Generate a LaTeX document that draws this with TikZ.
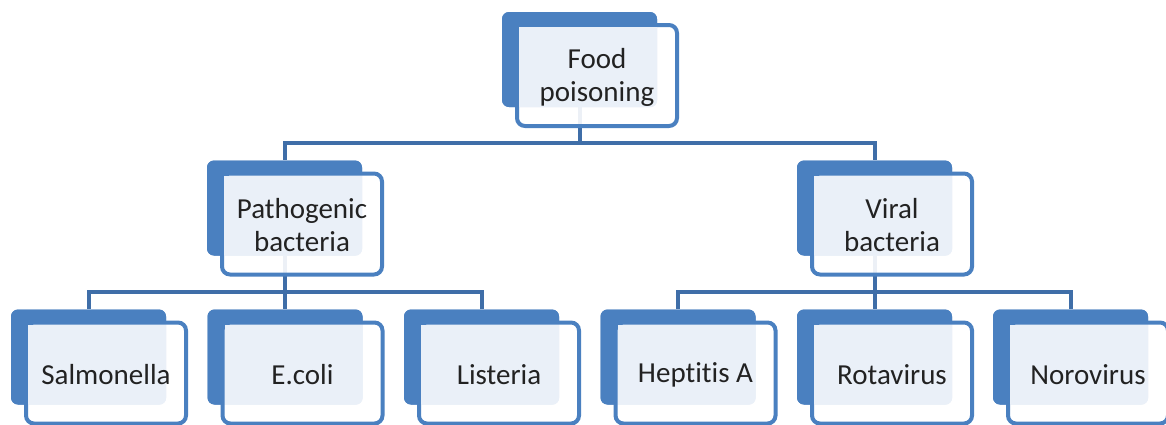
\documentclass[tikz,border=0pt]{standalone}
\usepackage{fontspec}
\setmainfont[Ligatures=NoCommon]{Carlito}
\usetikzlibrary{calc}
\definecolor{boxblue}{HTML}{4A80C0}
\definecolor{linkblue}{HTML}{3F6EA8}
\definecolor{paleblue}{HTML}{EAF0F8}
\definecolor{inktext}{HTML}{222222}
\tikzset{
  backbox/.style={rectangle, rounded corners=7pt, fill=boxblue, draw=none,
    minimum width=155pt, minimum height=95pt, inner sep=0pt},
  frameline/.style={draw=boxblue, line width=4pt, fill=white, fill opacity=0.9,
    rounded corners=8pt},
  labeltext/.style={text=inktext, align=center, inner sep=0pt,
    font=\fontsize{29}{33}\selectfont},
  conn/.style={draw=linkblue, line width=4pt},
}
% #1 name, #2,#3 centre of the solid back plate, #4 label
\newcommand\orgbox[4]{%
  \node[backbox] (#1) at (#2,#3) {};
  \coordinate (#1-c) at ($(#1.center)+(17.5,-16)$);
  \path[frameline] ($(#1-c)+(-80,-50.5)$) rectangle ($(#1-c)+(80,50.5)$);
  \begin{scope}
    \clip[rounded corners=7pt] (#1.south west) rectangle (#1.north east);
    \fill[paleblue] ($(#1-c)+(-78,-48.5)$) rectangle ($(#1-c)+(78,48.5)$);
  \end{scope}
  \node[labeltext] (#1-t) at ($(#1-c)+(0,-1.5)$) {#4};
}
\begin{document}
\begin{tikzpicture}[x=1pt,y=1pt]
\useasboundingbox (0,0) rectangle (1166,-424);
% solid plates first, so the connectors can be placed before the frames
\node[backbox] (food) at (579.5,-59.5) {};
\node[backbox] (patho) at (284.5,-208) {};
\node[backbox] (viral) at (874.5,-208) {};
\node[backbox] (salm) at (88.5,-357) {};
\node[backbox] (ecoli) at (285,-357) {};
\node[backbox] (list) at (481.5,-357) {};
\node[backbox] (hep) at (678,-357) {};
\node[backbox] (rota) at (874.5,-357) {};
\node[backbox] (noro) at (1070.5,-357) {};
% connectors
\draw[conn] (food.south) -- ++(0,-36) -| (patho.north);
\draw[conn] (food.south) ++(0,-36) -| (viral.north);
\draw[conn] (patho.south) -- ++(0,-36) -| (salm.north);
\draw[conn] (patho.south) ++(0,-36) -| (ecoli.north);
\draw[conn] (patho.south) ++(0,-36) -| (list.north);
\draw[conn] (viral.south) -- ++(0,-36) -| (hep.north);
\draw[conn] (viral.south) ++(0,-36) -| (rota.north);
\draw[conn] (viral.south) ++(0,-36) -| (noro.north);
% boxes with labels
\orgbox{food}{579.5}{-59.5}{Food\\poisoning}
\orgbox{patho}{284.5}{-208}{Pathogenic\\bacteria}
\orgbox{viral}{874.5}{-208}{Viral\\bacteria}
\orgbox{salm}{88.5}{-357}{Salmonella}
\orgbox{ecoli}{285}{-357}{E.coli}
\orgbox{list}{481.5}{-357}{Listeria}
\orgbox{hep}{678}{-357}{Heptitis A}
\orgbox{rota}{874.5}{-357}{Rotavirus}
\orgbox{noro}{1070.5}{-357}{Norovirus}
\end{tikzpicture}
\end{document}
